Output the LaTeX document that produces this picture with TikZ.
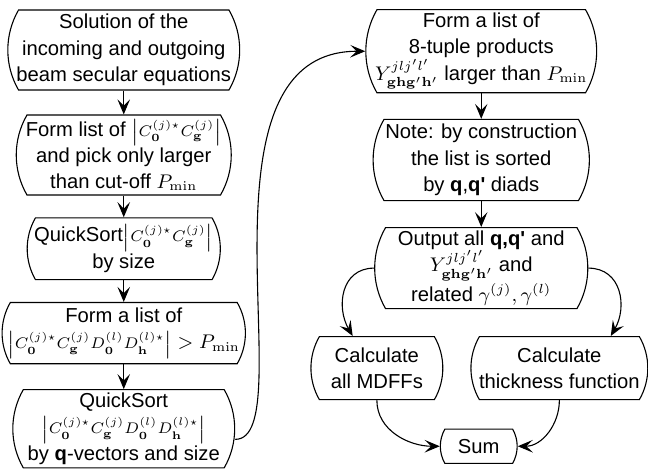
\documentclass[tikz,border=0pt]{standalone}
\usepackage[no-math]{fontspec}
\setmainfont{Liberation Sans}
\usetikzlibrary{arrows.meta,shapes.misc}
\tikzset{
  fig/.style={font=\fontsize{9.2}{12}\selectfont},
  flow/.style={draw,line width=0.5pt,rounded rectangle,rounded rectangle arc length=60,
               align=center,inner xsep=0pt,inner ysep=1.5pt},
  ln/.style={-{Stealth[length=2.4mm,width=2mm,inset=1mm]},line width=0.5pt},
}
\newcommand{\CCprod}{C_{\mathbf 0}^{(j)\star}C_{\mathbf g}^{(j)}}
\newcommand{\DDprod}{D_{\mathbf 0}^{(l)}D_{\mathbf h}^{(l)\star}}
\newcommand{\Yprod}{Y^{jlj'l'}_{\mathbf{ghg'h'}}}
\newcommand{\absof}[1]{{\fontsize{7}{8}\selectfont$\left|#1\right|$}}
\newcommand{\qq}{\textbf{q},\textbf{q\textquotesingle}}

\begin{document}
\begin{tikzpicture}[fig]
\useasboundingbox (0,0) rectangle (10.368,-7.552);

\def\xL{1.98}
\def\xR{7.70}

% ------------------------------------------------ left column
\node[flow,minimum width=3.71cm,minimum height=1.28cm] (solve) at (\xL,-0.80)
  {Solution of the\\incoming and outgoing\\beam secular equations};
\node[flow,minimum width=3.44cm,minimum height=1.28cm] (pick) at (\xL,-2.48)
  {Form list of \absof{\CCprod}\\and pick only larger\\than cut-off $P_{\min}$};
\node[flow,minimum width=3.09cm,minimum height=0.99cm] (sortsize) at (\xL,-3.98)
  {QuickSort\absof{\CCprod}\\by size};
\node[flow,minimum width=3.55cm,minimum height=0.98cm] (prodlist) at (\xL,-5.33)
  {Form a list of\\\absof{\CCprod\DDprod}$\;>P_{\min}$};
\node[flow,minimum width=3.55cm,minimum height=1.09cm] (sortq) at (\xL,-6.86)
  {QuickSort\\\absof{\CCprod\DDprod}\\by \textbf{q}-vectors and size};

% ------------------------------------------------ right column
\node[flow,minimum width=3.68cm,minimum height=1.31cm] (tuples) at (\xR,-0.82)
  {Form a list of\\8-tuple products\\$\Yprod$ larger than $P_{\min}$};
\node[flow,minimum width=3.46cm,minimum height=1.30cm] (note) at (\xR,-2.56)
  {Note: by construction\\the list is sorted\\by \qq{} diads};
\node[flow,minimum width=3.41cm,minimum height=1.28cm] (output) at (\xR,-4.29)
  {Output all \textbf{q,q\textquotesingle} and\\$\Yprod$ and\\related $\gamma^{(j)},\gamma^{(l)}$};
\node[flow,minimum width=2.11cm,minimum height=1.01cm] (mdff) at (6.03,-5.89)
  {Calculate\\all MDFFs};
\node[flow,minimum width=2.83cm,minimum height=1.01cm] (thick) at (8.95,-5.89)
  {Calculate\\thickness function};
\node[flow,minimum width=1.23cm,minimum height=0.55cm] (sum) at (7.66,-7.14) {Sum};

% ------------------------------------------------ connectors
\foreach \a/\b in {solve/pick,pick/sortsize,sortsize/prodlist,prodlist/sortq,
                   tuples/note,note/output}
  \draw[ln] (\a.south) -- (\b.north);

\draw[ln] ([yshift=-1.7mm]sortq.east) .. controls +(1.1,0) and +(-2.9,0) .. (tuples.west);
\draw[ln] (output.west) to[out=180,in=120,looseness=1.2] (mdff.127);
\draw[ln] (output.east) to[out=0,in=60,looseness=1.2] (thick.32);
\draw[ln] (mdff.south) to[out=-90,in=180] (sum.west);
\draw[ln] (thick.south) to[out=-90,in=0] (sum.east);

\end{tikzpicture}
\end{document}
